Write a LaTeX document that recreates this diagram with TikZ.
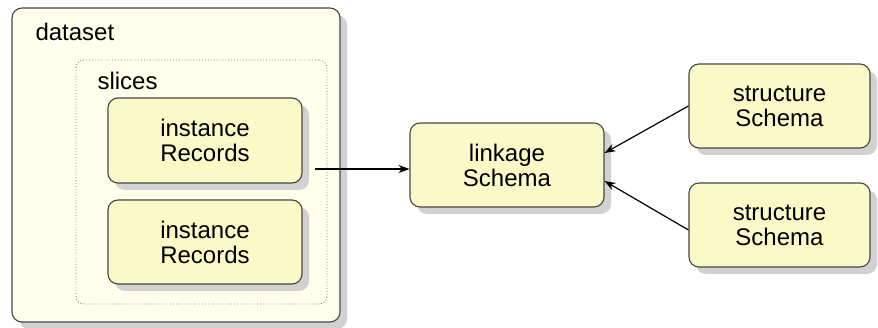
\documentclass[tikz,border=0pt]{standalone}
\usepackage{fontspec}
\setmainfont{Liberation Sans}
\usetikzlibrary{arrows.meta, shadows}

\definecolor{boxfill}{RGB}{250,250,200}
\definecolor{outerfill}{RGB}{255,255,236}
\definecolor{boxline}{RGB}{70,70,70}

\begin{document}
\begin{tikzpicture}[
    x=1pt, y=-1pt,
    every node/.style={font=\fontsize{24}{25}\selectfont},
    shadowed/.style={drop shadow={shadow xshift=7pt, shadow yshift=-7pt, fill=black!18, opacity=1}},
    block/.style={rectangle, rounded corners=10pt, draw=boxline, line width=1.1pt,
      fill=boxfill, shadowed, align=center, inner sep=0pt},
    link/.style={line width=1.2pt, -{Stealth[length=11pt, width=8pt]}}
  ]
  \useasboundingbox (0,0) rectangle (878,328);

  % containers
  \node[block, fill=outerfill, minimum width=328pt, minimum height=314pt] (dataset) at (176,165) {};
  \node[anchor=base west] at (32,41) {dataset};
  \node[rectangle, rounded corners=8pt, draw=black!50, dotted, line width=0.9pt,
    minimum width=251pt, minimum height=244pt] (slices) at (201.5,182) {};
  \node[anchor=base west] at (94,90) {slices};

  % record blocks
  \node[block, minimum width=194pt, minimum height=85pt] (rec1) at (205,140.5) {instance\\Records};
  \node[block, minimum width=194pt, minimum height=84pt] (rec2) at (205,242) {instance\\Records};

  % schemas
  \node[block, minimum width=194pt, minimum height=84pt] (linkage) at (507,165) {linkage\\Schema};
  \node[block, minimum width=181pt, minimum height=84pt] (struct1) at (779.5,106) {structure\\Schema};
  \node[block, minimum width=181pt, minimum height=84pt] (struct2) at (779.5,225) {structure\\Schema};

  \coordinate (out) at (315,169);
  \draw[link] (out) -- (linkage.west |- out);
  \draw[link] (struct1.west) -- ([yshift=12pt]linkage.east);
  \draw[link] ([yshift=-5pt]struct2.west) -- ([yshift=-16pt]linkage.east);
\end{tikzpicture}
\end{document}
